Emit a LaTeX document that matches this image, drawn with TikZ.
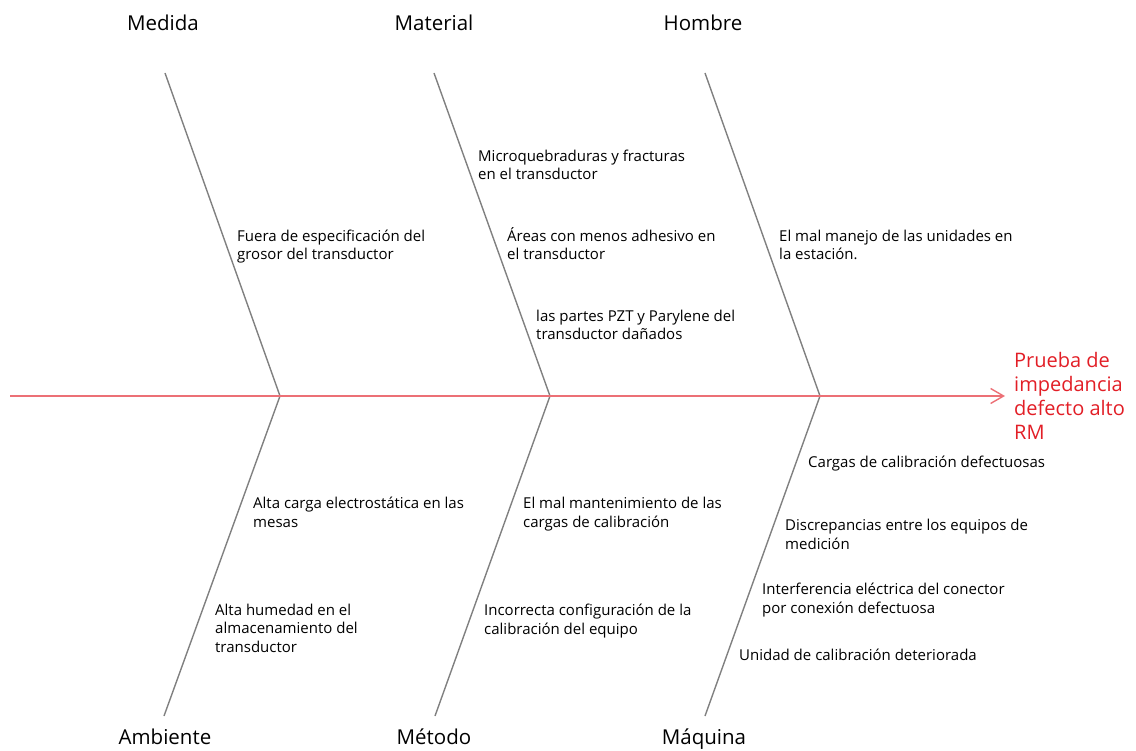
\documentclass[tikz,border=0pt]{standalone}
\usepackage{fontspec}
\setmainfont{Open Sans}
\usetikzlibrary{arrows.meta}
\definecolor{spinecol}{RGB}{236,112,118}
\definecolor{headcol}{RGB}{226,30,38}
\definecolor{bonecol}{RGB}{128,128,128}
\begin{document}
\begin{tikzpicture}[x=1pt,y=-1pt,
  bone/.style={draw=bonecol,line width=1.4pt},
  spine/.style={draw=spinecol,line width=1.6pt,-{Straight Barb[length=13pt,width=15pt,line width=1.4pt]}},
  cat/.style={font=\fontsize{20.5}{24}\selectfont,inner sep=0pt,anchor=base},
  cause/.style={font=\fontsize{15}{18.3}\selectfont,align=left,anchor=base west,inner sep=0pt},
  effect/.style={font=\fontsize{20}{24}\selectfont,text=headcol,align=left,anchor=base west,inner sep=0pt}]
\useasboundingbox (0,0) rectangle (1136,751);

% spine junctions and bone ends
\coordinate (tail) at (10,396);
\coordinate (j1) at (280,396);
\coordinate (j2) at (550,396);
\coordinate (j3) at (820,396);
\coordinate (tip) at (1005,396);
\coordinate (t1) at (165,73);
\coordinate (t2) at (434,73);
\coordinate (t3) at (705,73);
\coordinate (b1) at (164,716);
\coordinate (b2) at (435,716);
\coordinate (b3) at (705,716);

% bones
\draw[bone] (t1) -- (j1) -- (b1);
\draw[bone] (t2) -- (j2) -- (b2);
\draw[bone] (t3) -- (j3) -- (b3);

% spine
\draw[spine] (tail) -- (tip);

% categories (on a common baseline)
\node[cat] (medida) at (163,31) {Medida};
\node[cat] (material) at (434,31) {Material};
\node[cat] (hombre) at (703,31) {Hombre};
\node[cat] (ambiente) at (165,744) {Ambiente};
\node[cat] (metodo) at (434,744) {Método};
\node[cat] (maquina) at (704,744) {Máquina};

% effect (anchored on the baseline of its last line)
\node[effect] (efecto) at (1014,439) {Prueba de\\impedancia\\defecto alto\\RM};

% causes (anchored on the baseline of their last line)
\node[cause] (c1) at (237,260) {Fuera de especificación del\\grosor del transductor};
\node[cause] (c2) at (478,180) {Microquebraduras y fracturas\\en el transductor};
\node[cause] (c3) at (507,260) {Áreas con menos adhesivo en\\el transductor};
\node[cause] (c4) at (536,340) {las partes PZT y Parylene del\\transductor dañados};
\node[cause] (c5) at (779,260) {El mal manejo de las unidades en\\la estación.};
\node[cause] (c6) at (253,527) {Alta carga electrostática en las\\mesas};
\node[cause] (c7) at (215,652) {Alta humedad en el\\almacenamiento del\\transductor};
\node[cause] (c8) at (523,527) {El mal mantenimiento de las\\cargas de calibración};
\node[cause] (c9) at (484,634) {Incorrecta configuración de la\\calibración del equipo};
\node[cause] (c10) at (808,467) {Cargas de calibración defectuosas};
\node[cause] (c11) at (785,549) {Discrepancias entre los equipos de\\medición};
\node[cause] (c12) at (762,613) {Interferencia eléctrica del conector\\por conexión defectuosa};
\node[cause] (c13) at (739,660) {Unidad de calibración deteriorada};
\end{tikzpicture}
\end{document}
